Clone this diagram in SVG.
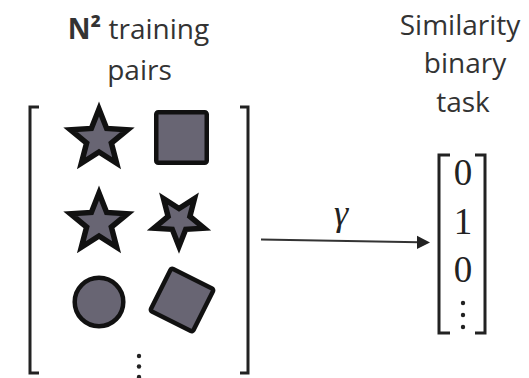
<svg xmlns="http://www.w3.org/2000/svg" width="529" height="378" viewBox="0 0 529 378">
  <style>
    .label { font-family: "Open Sans", Lato, "Liberation Sans", sans-serif; font-size: 28px; fill: #333; text-anchor: middle; }
    .math { font-family: "Liberation Serif", "DejaVu Serif", serif; fill: #222; text-anchor: middle; }
    .bracket { fill: none; stroke: #222; stroke-width: 3; }
    .shape { fill: #686573; stroke: #111; stroke-width: 4.5; stroke-linejoin: miter; }
    .star { stroke-width: 5.5; }
    .dot { fill: #222; }
    .arrow { stroke: #333; stroke-width: 2; fill: none; }
  </style>
  <defs>
    <path id="star" d="M0,-30 L7.64,-10.52 L28.53,-9.27 L12.36,4.02 L17.63,24.27 L0,13 L-17.63,24.27 L-12.36,4.02 L-28.53,-9.27 L-7.64,-10.52 Z"/>
  </defs>

  <rect width="529" height="378" fill="#fff"/>

  <!-- input: matrix of shape pairs -->
  <g id="pairs-title">
    <text class="label" x="138.5" y="39"><tspan font-weight="bold">N²</tspan> training</text>
    <text class="label" x="139.5" y="80">pairs</text>
  </g>

  <g id="pairs-matrix">
    <path class="bracket" d="M39,107 H30 V373 H39"/>
    <path class="bracket" d="M240,107 H248 V373 H240"/>
    <use href="#star" class="shape star" transform="translate(99,139)"/>
    <rect class="shape" x="156.25" y="112.25" width="50.5" height="50.5" rx="2"/>
    <use href="#star" class="shape star" transform="translate(99,223)"/>
    <use href="#star" class="shape" style="stroke-width:6.2" transform="translate(179,220) rotate(180) scale(0.88)"/>
    <circle class="shape" cx="99" cy="302" r="24.3"/>
    <rect class="shape" x="-23.75" y="-23.75" width="47.5" height="47.5" rx="2" transform="translate(182,300) rotate(26.5)"/>
    <circle class="dot" cx="139" cy="356" r="2.2"/>
    <circle class="dot" cx="139" cy="366.5" r="2.2"/>
    <circle class="dot" cx="139" cy="377" r="2.2"/>
  </g>

  <!-- output: binary similarity vector -->
  <g id="task-title">
    <text class="label" x="460" y="35">Similarity</text>
    <text class="label" x="465" y="73">binary</text>
    <text class="label" x="463" y="111.5">task</text>
  </g>

  <g id="task-vector">
    <path class="bracket" d="M450,155 H439 V333 H450"/>
    <path class="bracket" d="M475,155 H485 V333 H475"/>
    <text class="math" font-size="37" x="463" y="185">0</text>
    <text class="math" font-size="37" x="463" y="234">1</text>
    <text class="math" font-size="37" x="463" y="281.5">0</text>
    <circle class="dot" cx="463" cy="303" r="2.2"/>
    <circle class="dot" cx="463" cy="315" r="2.2"/>
    <circle class="dot" cx="463" cy="327" r="2.2"/>
  </g>

  <!-- mapping gamma -->
  <g id="connectors">
    <line class="arrow" x1="261" y1="239.5" x2="419" y2="242.2"/>
    <polygon points="430,242.5 417,235.8 417,249" fill="#222"/>
    <text class="math" font-size="36" font-style="italic" x="341" y="225">γ</text>
  </g>
</svg>
